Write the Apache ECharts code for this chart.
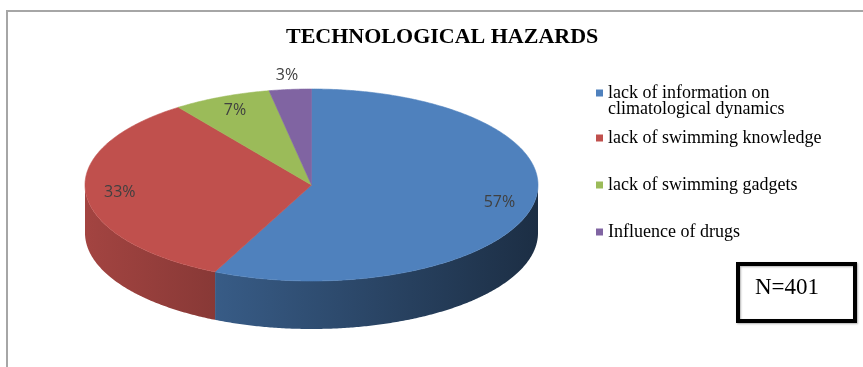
<!DOCTYPE html>
<html><head><meta charset="utf-8">
<script src="https://cdn.jsdelivr.net/npm/echarts@6/dist/echarts.min.js"></script>
<style>html,body{margin:0;padding:0;background:#fff}#c{width:863px;height:367px}</style>
</head><body><div id="c"></div>
<script>
const titleText = 'TECHNOLOGICAL HAZARDS';
const categories = ['lack of information on climatological dynamics', 'lack of swimming knowledge', 'lack of swimming gadgets', 'Influence of drugs'];
const shares = [57, 33, 7, 3];
const sampleSize = 401;
const colors = ['#4F81BD', '#C0504D', '#9BBB59', '#8064A2'];

const CX = 311.5, CY = 185, RX = 226.5, RY = 96, DEPTH = 48;
const total = shares.reduce((a, b) => a + b, 0);
const starts = []; let acc = 0; shares.forEach(v => { starts.push(acc); acc += v; });
function ang(v) { return -Math.PI / 2 + v / total * 2 * Math.PI; }
function pt(a, dy) { return [CX + RX * Math.cos(a), CY + RY * Math.sin(a) + (dy || 0)]; }
function shade(hex, f) {
  const n = parseInt(hex.slice(1), 16);
  const r = Math.round(((n >> 16) & 255) * f), g = Math.round(((n >> 8) & 255) * f), b = Math.round((n & 255) * f);
  return 'rgb(' + r + ',' + g + ',' + b + ')';
}
function makeRender(i) {
  return function (params, api) {
    const v = api.value(0);
    const a0 = ang(starts[i]), a1 = ang(starts[i] + v);
    const STEP = Math.PI / 360;
    const children = [];
    const s0 = Math.max(a0, 0), s1 = Math.min(a1, Math.PI);
    if (s1 > s0) {
      const top = [], bot = [];
      for (let a = s0; a < s1; a += STEP) { top.push(pt(a)); bot.push(pt(a, DEPTH)); }
      top.push(pt(s1)); bot.push(pt(s1, DEPTH));
      children.push({
        type: 'polygon', shape: { points: top.concat(bot.reverse()) },
        style: {
          fill: { type: 'linear', x: CX - RX, y: 0, x2: CX + RX, y2: 0, global: true,
            colorStops: [{ offset: 0, color: shade(colors[i], 0.85) }, { offset: 1, color: shade(colors[i], 0.36) }] }
        }
      });
    }
    const face = [[CX, CY]];
    for (let a = a0; a < a1; a += STEP) face.push(pt(a));
    face.push(pt(a1));
    children.push({ type: 'polygon', shape: { points: face }, style: { fill: colors[i], stroke: colors[i], lineWidth: 0.6 } });
    const mid = (a0 + a1) / 2;
    const f = v / total < 0.05 ? 1.15 : 0.85;
    children.push({
      type: 'text', x: CX + RX * f * Math.cos(mid), y: CY + RY * f * Math.sin(mid),
      style: { text: Math.round(v / total * 100) + '%', fill: '#404040', fontSize: 16, fontFamily: 'Open Sans', align: 'center', verticalAlign: 'middle' }
    });
    return { type: 'group', children: children };
  };
}

const chart = echarts.init(document.getElementById('c'));
const legendText = { fontFamily: 'Liberation Serif', fontSize: 18, color: '#000', lineHeight: 16 };
chart.setOption({
  animation: false,
  color: colors,
  title: { text: titleText, left: 286, top: 26, padding: 0,
    textStyle: { fontFamily: 'Liberation Serif', fontWeight: 'bold', fontSize: 22, color: '#000' } },
  legend: [
    { data: [categories[0]], orient: 'vertical', left: 596, top: 68, padding: 0, icon: 'rect', itemWidth: 7, itemHeight: 7,
      formatter: name => '\n' + name,
      textStyle: Object.assign({}, legendText, { width: 185, overflow: 'break' }) },
    { data: categories.slice(1), orient: 'vertical', left: 596, top: 129, padding: 0, itemGap: 29, icon: 'rect', itemWidth: 7, itemHeight: 7,
      textStyle: legendText }
  ],
  graphic: [
    { type: 'rect', shape: { x: 7, y: 11, width: 900, height: 400 }, style: { fill: null, stroke: '#a6a6a6', lineWidth: 2 }, z: -1 },
    { type: 'rect', shape: { x: 738, y: 264, width: 117, height: 57 },
      style: { fill: '#fff', stroke: '#000', lineWidth: 4, shadowBlur: 2, shadowColor: 'rgba(0,0,0,0.3)', shadowOffsetX: 1, shadowOffsetY: 1 } },
    { type: 'text', x: 755, y: 288, style: { text: 'N=' + sampleSize, fontFamily: 'Liberation Serif', fontSize: 23, fill: '#000', verticalAlign: 'middle' } }
  ],
  series: categories.map((name, i) => ({
    type: 'custom', name: name, coordinateSystem: 'none', silent: true,
    itemStyle: { color: colors[i] },
    data: [shares[i]],
    renderItem: makeRender(i)
  }))
});
</script></body></html>
